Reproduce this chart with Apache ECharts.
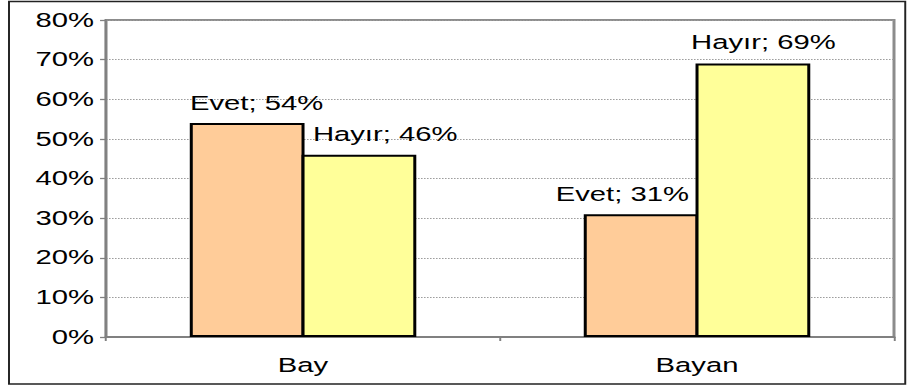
<!DOCTYPE html>
<html>
<head>
<meta charset="utf-8">
<script src="https://cdn.jsdelivr.net/npm/echarts@6/dist/echarts.min.js"></script>
<style>
html,body{margin:0;padding:0;background:#fff;overflow:hidden;}
#c{width:605px;height:388px;transform:scaleX(1.5);transform-origin:0 0;}
</style>
</head>
<body>
<div id="c"></div>
<script>
var categories = ['Bay', 'Bayan'];
var evetValues = [54, 31];
var hayirValues = [46, 69];
var yTicks = [0, 10, 20, 30, 40, 50, 60, 70, 80];

var FONT = 'Liberation Sans, Arial, sans-serif';
var chart = echarts.init(document.getElementById('c'), null, {renderer: 'svg'});

// label placement tweaks (style only, not data)
var evetLabelOffsets = [[6.3, 0], [-12.5, 0]];
var hayirLabelOffsets = [[17.5, 0], [7, -1]];

function withOffsets(values, offsets) {
  return values.map(function (v, i) {
    return {value: v, label: {offset: offsets[i]}};
  });
}

function mkLabel(name) {
  return {
    show: true, position: 'top', distance: 10,
    color: '#000', fontFamily: FONT, fontSize: 19.5,
    formatter: function (p) { return name + '; ' + p.value + '%'; }
  };
}

chart.setOption({
  animation: false,
  backgroundColor: '#fff',
  graphic: [{
    type: 'rect', silent: true,
    shape: {x: 6, y: 1.5, width: 597.5, height: 382.5},
    style: {fill: 'none', stroke: '#222', lineWidth: 1.3}
  }],
  grid: {left: 70.7, right: 9, top: 20, bottom: 51, show: true, borderColor: '#8c8c8c', borderWidth: 2, backgroundColor: 'transparent'},
  xAxis: {
    type: 'category', data: categories,
    axisLine: {lineStyle: {color: '#808080', width: 2}},
    axisTick: {show: true, length: 4, lineStyle: {color: '#808080', width: 1.3}},
    axisLabel: {color: '#000', fontFamily: FONT, fontSize: 19.5, margin: 18}
  },
  yAxis: {
    type: 'value', min: yTicks[0], max: yTicks[yTicks.length - 1], interval: 10,
    axisLine: {show: true, lineStyle: {color: '#808080', width: 1.4}},
    axisTick: {show: true, length: 4, lineStyle: {color: '#808080', width: 1.3}},
    axisLabel: {color: '#000', fontFamily: FONT, fontSize: 19.5, margin: 8, formatter: '{value}%'},
    splitLine: {show: true, lineStyle: {color: '#9a9a9a', type: [1, 1], width: 1}}
  },
  series: [
    {
      name: 'Evet', type: 'bar', data: withOffsets(evetValues, evetLabelOffsets), barWidth: 76.5, barGap: '-2.6%',
      itemStyle: {color: '#FFCC99', borderColor: '#000', borderWidth: 2},
      label: mkLabel('Evet')
    },
    {
      name: 'Hayır', type: 'bar', data: withOffsets(hayirValues, hayirLabelOffsets), barWidth: 76.5,
      itemStyle: {color: '#FFFF99', borderColor: '#000', borderWidth: 2},
      label: mkLabel('Hayır')
    }
  ]
});
</script>
</body>
</html>
